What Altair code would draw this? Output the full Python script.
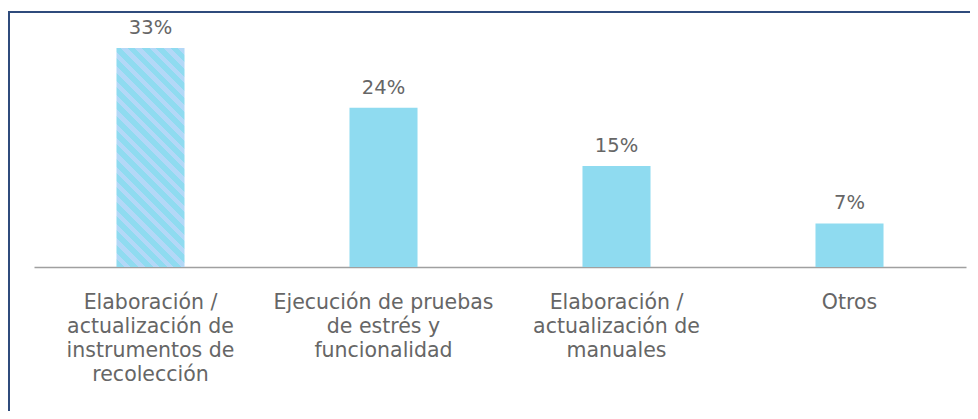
import altair as alt
import pandas as pd

categories = [
    "Elaboración /\nactualización de\ninstrumentos de\nrecolección",
    "Ejecución de pruebas\nde estrés y\nfuncionalidad",
    "Elaboración /\nactualización de\nmanuales",
    "Otros",
]
values = [32.7, 23.8, 15.1, 6.5]
value_labels = ["33%", "24%", "15%", "7%"]
hatched = [True, False, False, False]

df = pd.DataFrame({"cat": categories, "val": values, "lab": value_labels, "hatched": hatched})

PLOT_W, PLOT_H = 932, 247
Y_MAX = 36.9
P_INNER = 0.708
BAR_COLOR = "#8FDBF0"
STRIPE_COLOR = "#B3D8F7"
TEXT_COLOR = "#666666"
FONT = "DejaVu Sans"

# diagonal stripes via a sharp-stop linear gradient (45 degrees in pixel space)
w = PLOT_W / 4 * (1 - P_INNER)
h = values[0] * PLOT_H / Y_MAX
k = (w + h) / (w * w + h * h)
n_stripes = 20
stops = []
for i in range(n_stripes):
    a = i / n_stripes
    m = (i + 0.55) / n_stripes
    b = (i + 1) / n_stripes
    stops += [
        {"offset": a, "color": BAR_COLOR},
        {"offset": m, "color": BAR_COLOR},
        {"offset": m, "color": STRIPE_COLOR},
        {"offset": b, "color": STRIPE_COLOR},
    ]
gradient = {"gradient": "linear", "stops": stops,
            "x1": 0, "y1": 1, "x2": k * w, "y2": 1 - k * h}

x_enc = alt.X(
    "cat:N", sort=categories, title=None,
    scale=alt.Scale(paddingInner=P_INNER, paddingOuter=P_INNER / 2),
    axis=alt.Axis(
        labelAngle=0, ticks=False, tickSize=0, domainColor="#A0A0A0", domainWidth=1.5,
        labelFont=FONT, labelFontSize=20.5, labelColor=TEXT_COLOR, labelPadding=25,
        labelLineHeight=24, labelLimit=400, labelExpr="split(datum.value, '\\n')",
        grid=False,
    ),
)
y_enc = alt.Y("val:Q", axis=None, scale=alt.Scale(domain=[0, Y_MAX], nice=False, zero=True))

base = alt.Chart(df).encode(x=x_enc, y=y_enc)

plain = base.transform_filter("!datum.hatched").mark_bar(color=BAR_COLOR)
striped = base.transform_filter("datum.hatched").mark_bar(fill=gradient)
text = base.mark_text(baseline="bottom", dy=-10, font=FONT, fontSize=19.5, color=TEXT_COLOR).encode(
    text="lab:N")

frame_data = alt.Data(values=[{"k": 1}])
FRAME = "#2F4B7C"
top_line = alt.Chart(frame_data).mark_rule(color=FRAME, strokeWidth=2).encode(
    x=alt.value(-26), x2=alt.value(940), y=alt.value(-8))
left_line = alt.Chart(frame_data).mark_rule(color=FRAME, strokeWidth=2).encode(
    x=alt.value(-25), y=alt.value(-8), y2=alt.value(395))

chart = alt.layer(plain, striped, text, top_line, left_line).properties(
    width=PLOT_W, height=PLOT_H,
    autosize=alt.AutoSizeParams(type="none"),
    padding={"left": 26, "top": 12, "right": 4, "bottom": 144},
    background="white",
).configure_view(stroke=None)

chart.save("out.html", embed_options={"renderer": "svg", "actions": False})
